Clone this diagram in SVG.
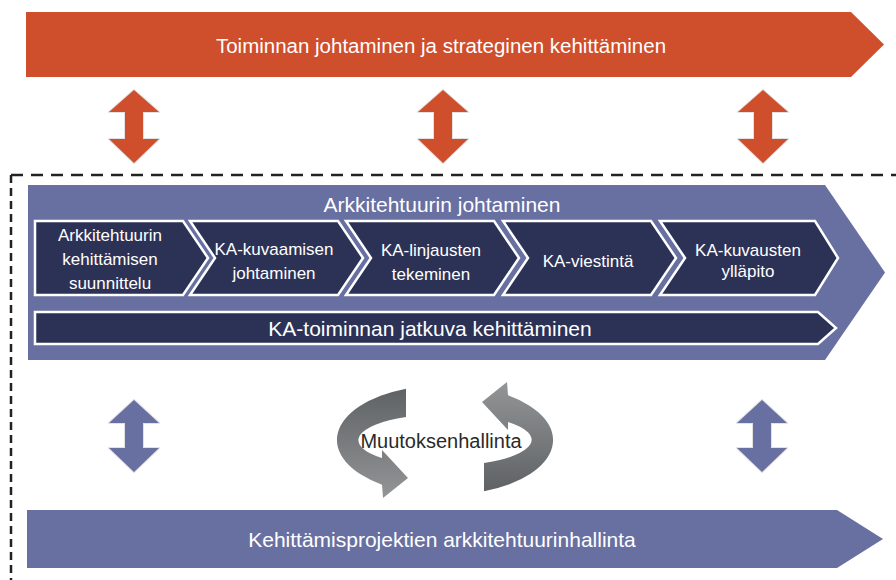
<svg xmlns="http://www.w3.org/2000/svg" width="896" height="580" viewBox="0 0 896 580">
  <defs>
    <style>
      .t { font-family: "Liberation Sans", Arial, sans-serif; text-anchor: middle; }
      .wt { fill: #ffffff; }
      .red { fill: #cf4e2b; }
      .blue { fill: #6870a2; }
      .chev { fill: #2c3256; stroke: #ffffff; stroke-width: 2.5; stroke-linejoin: miter; }
      .dbl { stroke: #e2e2e2; stroke-width: 2; paint-order: stroke; stroke-linejoin: round; }
      .dash { fill: none; stroke: #222222; stroke-width: 2.5; }
    </style>
    <linearGradient id="arcGrad" x1="0" y1="0" x2="0" y2="1">
      <stop offset="0" stop-color="#5f6264"/>
      <stop offset="1" stop-color="#939597"/>
    </linearGradient>
    <path id="arcShape" d="M406,388.7 A108,55 0 0 0 382,484.7 L383,498 L408,478 L382,450 L382,458 A87,26 0 0 1 406,417 Z"/>
  </defs>

  <rect x="0" y="0" width="896" height="580" fill="#ffffff"/>

  <!-- dashed boundary -->
  <g id="boundary">
    <line class="dash" x1="11" y1="175" x2="896" y2="175" stroke-dasharray="12 8"/>
    <line class="dash" x1="11" y1="175" x2="11" y2="580" stroke-dasharray="8 5"/>
  </g>

  <g id="node-toiminnan-johtaminen">
    <path class="red" d="M26,12 L851,12 L884,44.5 L851,77 L26,77 Z"/>
    <text class="t wt" x="441" y="53" font-size="20.5">Toiminnan johtaminen ja strateginen kehittäminen</text>
  </g>

  <g id="node-arkkitehtuurin-johtaminen">
    <path class="blue" d="M28,185 L825,185 L885,272.5 L825,360 L28,360 Z"/>
    <text class="t wt" x="442" y="212" font-size="21">Arkkitehtuurin johtaminen</text>
  </g>

  <g id="node-suunnittelu">
    <path class="chev" d="M35,221 L183,221 L208,258 L183,295 L35,295 Z"/>
    <text class="t wt" font-size="17"><tspan x="110" y="241">Arkkitehtuurin</tspan><tspan x="110" y="265">kehittämisen</tspan><tspan x="110" y="289">suunnittelu</tspan></text>
  </g>

  <g id="node-kuvaamisen-johtaminen">
    <path class="chev" d="M190,221 L338,221 L363,258 L338,295 L190,295 L215,258 Z"/>
    <text class="t wt" font-size="17"><tspan x="274" y="255">KA-kuvaamisen</tspan><tspan x="274" y="278.5">johtaminen</tspan></text>
  </g>

  <g id="node-linjausten-tekeminen">
    <path class="chev" d="M346,221 L494,221 L519,258 L494,295 L346,295 L371,258 Z"/>
    <text class="t wt" font-size="17"><tspan x="431" y="256">KA-linjausten</tspan><tspan x="431" y="280">tekeminen</tspan></text>
  </g>

  <g id="node-viestinta">
    <path class="chev" d="M503,221 L651,221 L676,258 L651,295 L503,295 L528,258 Z"/>
    <text class="t wt" x="588" y="267" font-size="17">KA-viestintä</text>
  </g>

  <g id="node-kuvausten-yllapito">
    <path class="chev" d="M660,221 L815,221 L838,258 L815,295 L660,295 L685,258 Z"/>
    <text class="t wt" font-size="17"><tspan x="748" y="256">KA-kuvausten</tspan><tspan x="748" y="277">ylläpito</tspan></text>
  </g>

  <g id="node-jatkuva-kehittaminen">
    <path class="chev" d="M35,312 L818,312 L836,328 L818,344 L35,344 Z"/>
    <text class="t wt" x="430" y="336" font-size="21">KA-toiminnan jatkuva kehittäminen</text>
  </g>

  <g id="node-muutoksenhallinta">
    <use href="#arcShape" fill="url(#arcGrad)"/>
    <use href="#arcShape" fill="url(#arcGrad)" transform="rotate(180 445 440)"/>
    <text class="t" x="441" y="448" font-size="20" fill="#2a2a2a">Muutoksenhallinta</text>
  </g>

  <g id="node-kehittamisprojektit">
    <path class="blue" d="M27,510 L837,510 L883,539 L837,568 L27,568 Z"/>
    <text class="t wt" x="442" y="547" font-size="21">Kehittämisprojektien arkkitehtuurinhallinta</text>
  </g>

  <g id="connectors">
    <polygon class="red dbl" points="134,90 159,112 143,112 143,139 159,139 134,163 109,139 125,139 125,112 109,112"/>
    <polygon class="red dbl" points="443,90 468,112 452,112 452,139 468,139 443,163 418,139 434,139 434,112 418,112"/>
    <polygon class="red dbl" points="763,90 788,112 772,112 772,139 788,139 763,163 738,139 754,139 754,112 738,112"/>
    <polygon class="blue dbl" points="134,400 159,423 143,423 143,448 159,448 134,472 109,448 125,448 125,423 109,423"/>
    <polygon class="blue dbl" points="762,400 787,423 771,423 771,448 787,448 762,472 737,448 753,448 753,423 737,423"/>
  </g>
</svg>
